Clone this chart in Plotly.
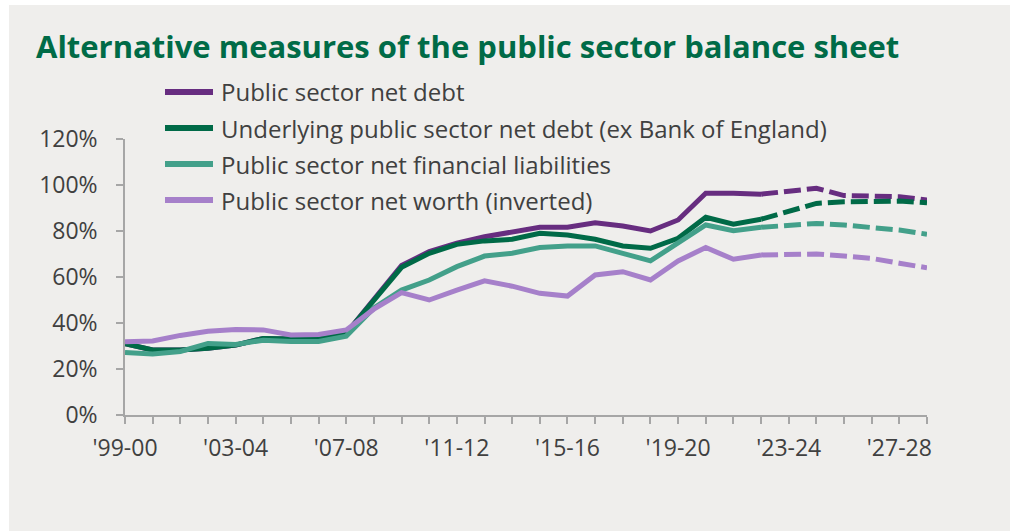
import plotly.graph_objects as go

# Financial years, '99-00 to '28-29
years = ["'99-00", "'00-01", "'01-02", "'02-03", "'03-04", "'04-05", "'05-06", "'06-07",
         "'07-08", "'08-09", "'09-10", "'10-11", "'11-12", "'12-13", "'13-14", "'14-15",
         "'15-16", "'16-17", "'17-18", "'18-19", "'19-20", "'20-21", "'21-22", "'22-23",
         "'23-24", "'24-25", "'25-26", "'26-27", "'27-28", "'28-29"]

# Per cent of GDP
psnd = [31.0, 28.3, 28.3, 29.0, 30.4, 33.3, 33.0, 33.0, 35.5, 50.0,
        65.0, 71.0, 74.7, 77.5, 79.4, 81.6, 81.6, 83.6, 82.2, 80.0,
        84.8, 96.4, 96.4, 96.0, 97.5, 98.6, 95.4, 94.9, 94.9, 93.5]
underlying_psnd = [31.0, 28.3, 28.3, 29.0, 30.4, 33.3, 33.0, 33.0, 35.5, 50.0,
                   64.2, 70.3, 74.2, 75.7, 76.4, 79.0, 78.3, 76.4, 73.5, 72.5,
                   76.8, 86.0, 83.0, 85.1, 88.4, 92.0, 92.7, 93.0, 93.0, 92.3]
psnfl = [27.2, 26.5, 27.6, 31.1, 30.7, 32.5, 32.0, 32.0, 34.3, 46.5,
         54.3, 58.7, 64.5, 69.1, 70.3, 72.8, 73.5, 73.5, 70.3, 67.0,
         74.8, 82.6, 80.1, 81.6, 82.6, 83.3, 82.6, 81.6, 80.4, 78.6]
net_worth_inv = [31.9, 32.2, 34.6, 36.4, 37.2, 37.0, 34.8, 35.0, 37.0, 46.0,
                 53.2, 50.0, 54.3, 58.3, 56.0, 52.9, 51.7, 60.9, 62.3, 58.7,
                 67.0, 72.8, 67.7, 69.6, 69.6, 70.0, 69.1, 68.1, 66.0, 64.0]

series_names = ["Public sector net debt",
                "Underlying public sector net debt (ex Bank of England)",
                "Public sector net financial liabilities",
                "Public sector net worth (inverted)"]
series_values = [psnd, underlying_psnd, psnfl, net_worth_inv]
series_colors = ["#672d80", "#006a47", "#43a08a", "#a680ca"]

tick_labels = ["'99-00", "'03-04", "'07-08", "'11-12", "'15-16", "'19-20", "'23-24", "'27-28"]
y_ticks = [0, 20, 40, 60, 80, 100, 120]
y_tick_text = ["0%", "20%", "40%", "60%", "80%", "100%", "120%"]

first_forecast = years.index("'22-23")  # outturn ends, projections start (dashed)

BG = "#efeeec"
TEXT = "#404040"
AXIS = "#a6a6a6"
FONT = "Open Sans"

fig = go.Figure()

for name, vals, col in zip(series_names, series_values, series_colors):
    fig.add_trace(go.Scatter(
        x=years[:first_forecast + 1], y=vals[:first_forecast + 1],
        mode="lines", name=name, showlegend=False,
        line=dict(color=col, width=5, shape="linear"),
        hoverinfo="skip"))
    fig.add_trace(go.Scatter(
        x=years[first_forecast:], y=vals[first_forecast:],
        mode="lines", name=name, showlegend=False,
        line=dict(color=col, width=5, dash="17px,6px"),
        hoverinfo="skip"))

# Plot-area geometry in pixels (used to place the hand-built legend and title)
W, H = 1014, 531
L, R, T, B = 125, 87, 139, 116
pw, ph = W - L - R, H - T - B


def px_x(x):
    return (x - L) / pw


def px_y(y):
    return (H - B - y) / ph


shapes = [
    # panel background
    dict(type="rect", xref="paper", yref="paper", layer="below",
         x0=px_x(9), x1=px_x(1010), y0=px_y(5), y1=px_y(531),
         fillcolor=BG, line=dict(width=0)),
]
annotations = [
    dict(text="Alternative measures of the public sector balance sheet",
         xref="paper", yref="paper", x=px_x(34), y=px_y(46),
         xanchor="left", yanchor="middle", showarrow=False,
         font=dict(family="Open Sans", size=31, color="#006b47", weight="bold")),
]

legend_rows = [92, 128, 164, 200]
for name, col, ry in zip(series_names, series_colors, legend_rows):
    shapes.append(dict(type="line", xref="paper", yref="paper",
                       x0=px_x(165), x1=px_x(213), y0=px_y(ry), y1=px_y(ry),
                       line=dict(color=col, width=6)))
    annotations.append(dict(text=name, xref="paper", yref="paper",
                            x=px_x(219), y=px_y(ry), xanchor="left", yanchor="middle",
                            showarrow=False, font=dict(family=FONT, size=24, color=TEXT)))

fig.update_layout(
    width=W, height=H,
    margin=dict(l=L, r=R, t=T, b=B, pad=0),
    paper_bgcolor="white",
    plot_bgcolor="rgba(0,0,0,0)",
    showlegend=False,
    shapes=shapes,
    annotations=annotations,
    xaxis=dict(
        type="category", range=[0, len(years) - 1],
        tickmode="array", tickvals=years,
        ticktext=[y if y in tick_labels else "" for y in years],
        ticks="outside", ticklen=7, tickwidth=1.5, tickcolor=AXIS,
        showline=True, linecolor=AXIS, linewidth=1.5,
        showgrid=False, zeroline=False,
        ticklabelstandoff=5,
        tickfont=dict(family=FONT, size=23, color=TEXT)),
    yaxis=dict(
        range=[0, 120], tickmode="array", tickvals=y_ticks, ticktext=y_tick_text,
        ticks="outside", ticklen=7, tickwidth=1.5, tickcolor=AXIS,
        showline=True, linecolor=AXIS, linewidth=1.5,
        showgrid=False, zeroline=False,
        ticklabelstandoff=14,
        tickfont=dict(family=FONT, size=23, color=TEXT)),
)

fig.write_html("out.html")
